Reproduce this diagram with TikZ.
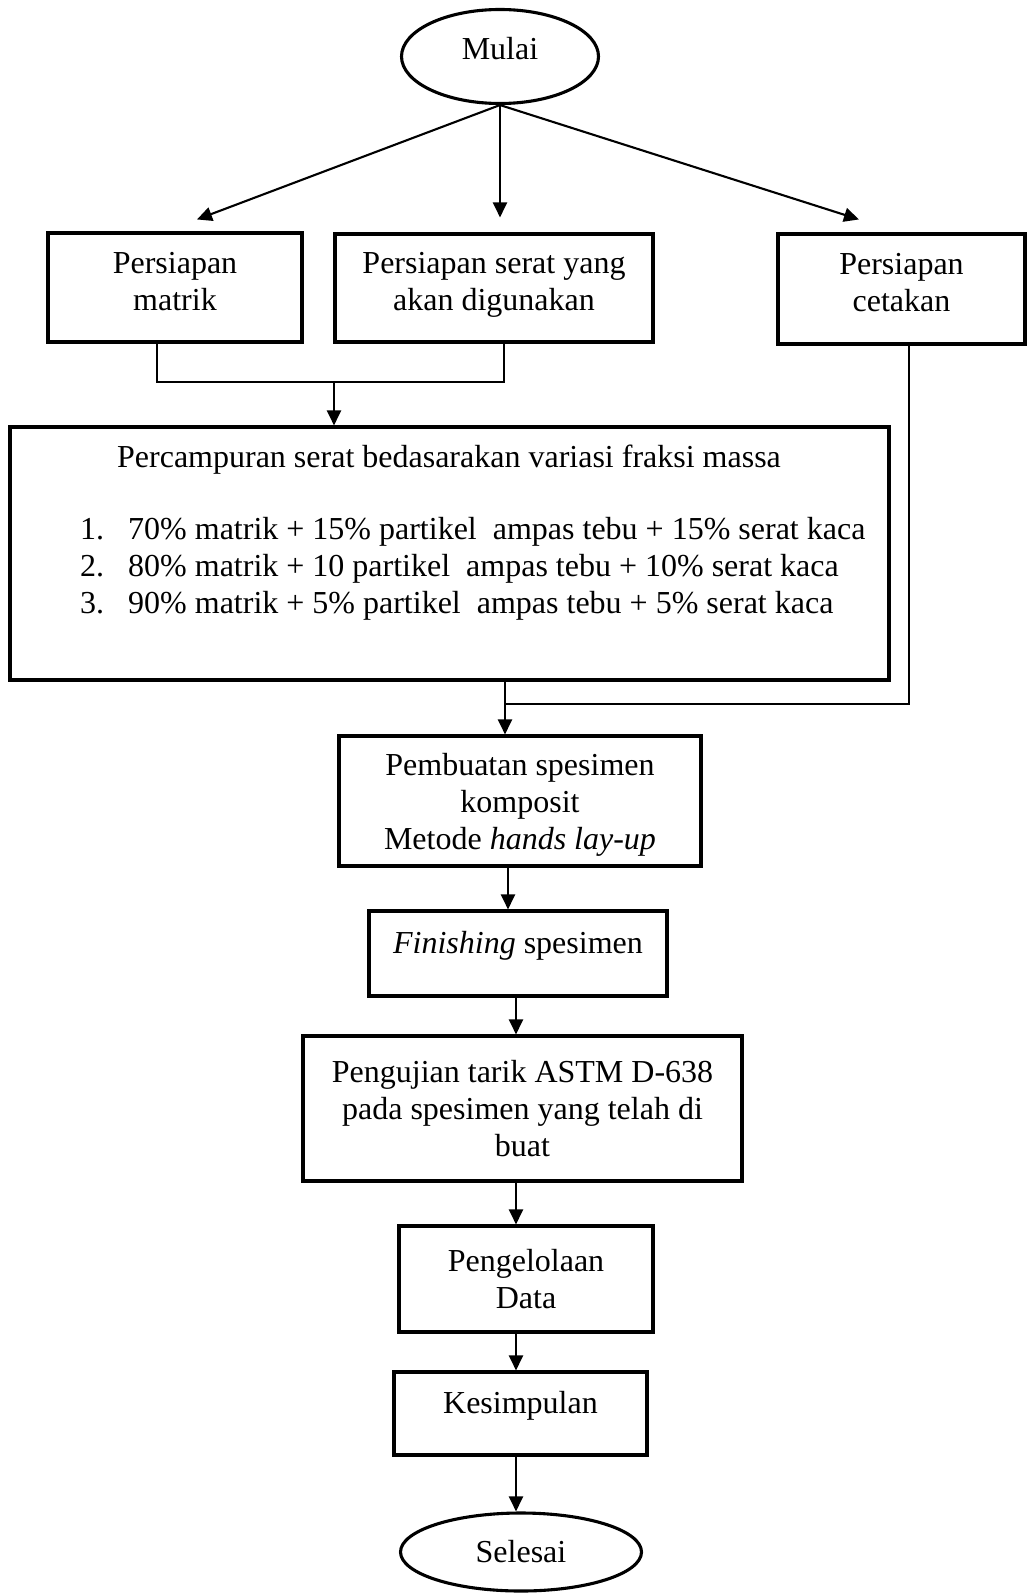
\documentclass[tikz,border=0pt]{standalone}
\usepackage{fontspec}
\setmainfont{Liberation Serif}
\usetikzlibrary{arrows.meta,positioning,shapes.geometric}

\begin{document}
\begin{tikzpicture}[x=1pt,y=-1pt,
  font=\fontsize{32}{37}\selectfont,
  box/.style={rectangle,draw,line width=3.1pt,align=center,inner sep=2pt},
  term/.style={ellipse,draw,line width=3.1pt,inner sep=0pt},
  oneline/.style={text height=16pt,text depth=16pt},
  twoline/.style={text height=56pt,text depth=10pt},
  link/.style={line width=2.1pt},
  arr/.style={link,-{Triangle[length=15pt,width=14pt]}}]
  \useasboundingbox (0,0) rectangle (1028,1594);
  \node[term,text height=20pt,text depth=14pt,minimum width=197pt,minimum height=94pt] (start) at (500,56.5) {Mulai};
  \node[box,twoline,minimum width=254pt,minimum height=109pt] (prepm) at (175,287.5) {Persiapan\\matrik};
  \node[box,twoline,minimum width=318pt,minimum height=108pt] (prepf) at (494,288) {Persiapan serat yang\\akan digunakan};
  \node[box,twoline,minimum width=247pt,minimum height=110pt] (prepc) at (901.5,289) {Persiapan\\cetakan};
  \node[box,minimum width=879pt,minimum height=253pt] (mix) at (449.5,553.5) {};
  \node (mixhead) at (449,460) {Percampuran serat bedasarakan variasi fraksi massa};
  \node[anchor=west,inner sep=0pt] (mixlist) at (80,569) {\begin{tabular}{@{}l@{\hspace{24pt}}l@{}}
    1. & 70\% matrik + 15\% partikel\ \ ampas tebu + 15\% serat kaca\\
    2. & 80\% matrik + 10 partikel\ \ ampas tebu + 10\% serat kaca\\
    3. & 90\% matrik + 5\% partikel\ \ ampas tebu + 5\% serat kaca
  \end{tabular}};
  \node[box,text height=104pt,text depth=8pt,minimum width=362pt,minimum height=130pt] (make) at (520,801) {Pembuatan spesimen\\komposit\\Metode \textit{hands lay-up}};
  \node[box,oneline,minimum width=298pt,minimum height=85pt] (finish) at (518,953.5) {\textit{Finishing} spesimen};
  \node[box,minimum width=439pt,minimum height=145pt] (test) at (522.5,1108.5) {Pengujian tarik ASTM D-638\\pada spesimen yang telah di\\buat};
  \node[box,minimum width=254pt,minimum height=106pt] (data) at (526,1279) {Pengelolaan\\Data};
  \node[box,oneline,minimum width=253pt,minimum height=83pt] (concl) at (520.5,1413.5) {Kesimpulan};
  \node[term,minimum width=241pt,minimum height=78pt] (stop) at (521,1552) {Selesai};
  % dari mulai ke tiga persiapan
  \draw[arr] (start.south) -- ([xshift=22pt,yshift=12pt]prepm.north);
  \draw[arr] (start.south) -- ([yshift=15pt]prepf.north -| start.south);
  \draw[arr] (start.south) -- ([xshift=-42.5pt,yshift=13pt]prepc.north);
  % matrik dan serat ke percampuran
  \coordinate (join1) at (334,382);
  \draw[link] ([xshift=-18pt]prepm.south) |- (join1) -| ([xshift=10pt]prepf.south);
  \draw[arr] (join1) -- (join1 |- mix.north);
  % cetakan dan percampuran ke pembuatan
  \coordinate (join2) at (505,704);
  \draw[link] ([xshift=7.5pt]prepc.south) |- (join2);
  \draw[arr] (mix.south -| join2) -- (join2 |- make.north);
  % alur ke bawah
  \coordinate (axis) at (516,0);
  \draw[arr] ([xshift=-12pt]make.south) -- ([xshift=-12pt]make.south |- finish.north);
  \draw[arr] (finish.south -| axis) -- (test.north -| axis);
  \draw[arr] (test.south -| axis) -- (data.north -| axis);
  \draw[arr] (data.south -| axis) -- (concl.north -| axis);
  \draw[arr] (concl.south -| axis) -- (stop.north -| axis);
\end{tikzpicture}
\end{document}
